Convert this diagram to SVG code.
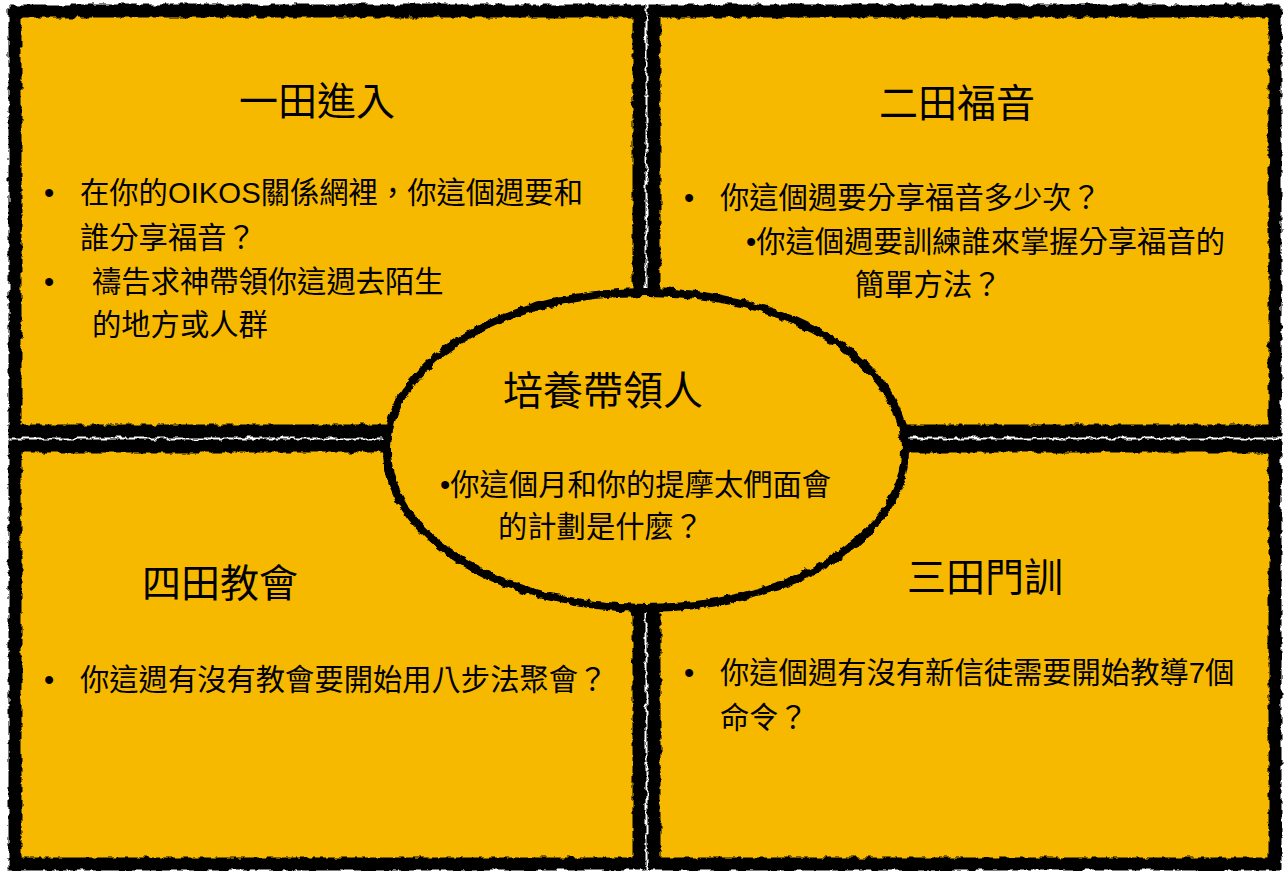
<svg xmlns="http://www.w3.org/2000/svg" width="1284" height="871" viewBox="0 0 1284 871">
<style>
.fill{fill:#F6B900;stroke:none}
.frame{fill:none;stroke:#000;stroke-width:13;filter:url(#rough)}
.oval{fill:#F6B900;stroke:none}
.ovalb{fill:none;stroke:#000;stroke-width:8;filter:url(#rough2)}
text{font-family:"Liberation Sans","Noto Sans CJK TC",sans-serif;fill:#000}
.t{font-size:39px;text-anchor:middle}
.tc{font-size:40px;text-anchor:middle}
.b{font-size:29.3px}
</style>
<defs>
<filter id="rough" x="-5%" y="-5%" width="110%" height="110%">
<feTurbulence type="fractalNoise" baseFrequency="0.12" numOctaves="3" seed="3" result="n"/>
<feDisplacementMap in="SourceGraphic" in2="n" scale="6" xChannelSelector="R" yChannelSelector="G"/>
</filter>
<filter id="rough2" x="-5%" y="-5%" width="110%" height="110%">
<feTurbulence type="fractalNoise" baseFrequency="0.12" numOctaves="3" seed="7" result="n"/>
<feDisplacementMap in="SourceGraphic" in2="n" scale="6" xChannelSelector="R" yChannelSelector="G"/>
</filter>
</defs>
<rect width="1284" height="871" fill="#fff"/>
<g id="field1">
<rect class="fill" x="15" y="11" width="624" height="420"/>
<rect class="frame" x="15" y="11" width="624" height="420"/>
<text class="t" x="317" y="115">一田進入</text>
<text class="b" x="44" y="203">•</text>
<text class="b" x="80" y="203">在你的OIKOS關係網裡，你這個週要和</text>
<text class="b" x="80" y="248">誰分享福音？</text>
<text class="b" x="44" y="292">•</text>
<text class="b" x="92" y="292">禱告求神帶領你這週去陌生</text>
<text class="b" x="92" y="335">的地方或人群</text>
</g>
<g id="field2">
<rect class="fill" x="654" y="11" width="621" height="420"/>
<rect class="frame" x="654" y="11" width="621" height="420"/>
<text class="t" x="957" y="117">二田福音</text>
<text class="b" x="684" y="208">•</text>
<text class="b" x="720" y="208">你這個週要分享福音多少次？</text>
<text class="b" x="746" y="252">•你這個週要訓練誰來掌握分享福音的</text>
<text class="b" x="855" y="295">簡單方法？</text>
</g>
<g id="field4">
<rect class="fill" x="15" y="446" width="624" height="418"/>
<rect class="frame" x="15" y="446" width="624" height="418"/>
<text class="t" x="220" y="597">四田教會</text>
<text class="b" x="44" y="690">•</text>
<text class="b" x="80" y="690">你這週有沒有教會要開始用八步法聚會？</text>
</g>
<g id="field3">
<rect class="fill" x="654" y="446" width="621" height="418"/>
<rect class="frame" x="654" y="446" width="621" height="418"/>
<text class="t" x="985" y="591">三田門訓</text>
<text class="b" x="684" y="683">•</text>
<text class="b" x="720" y="683">你這個週有沒有新信徒需要開始教導7個</text>
<text class="b" x="720" y="728">命令？</text>
</g>
<g id="center">
<ellipse class="oval" cx="646" cy="450" rx="259" ry="158"/>
<ellipse class="ovalb" cx="646" cy="450" rx="259" ry="158"/>
<text class="tc" x="603" y="405">培養帶領人</text>
<text class="b" x="440" y="495">•你這個月和你的提摩太們面會</text>
<text class="b" x="498" y="537">的計劃是什麼？</text>
</g>
<g id="connectors"/>
</svg>
